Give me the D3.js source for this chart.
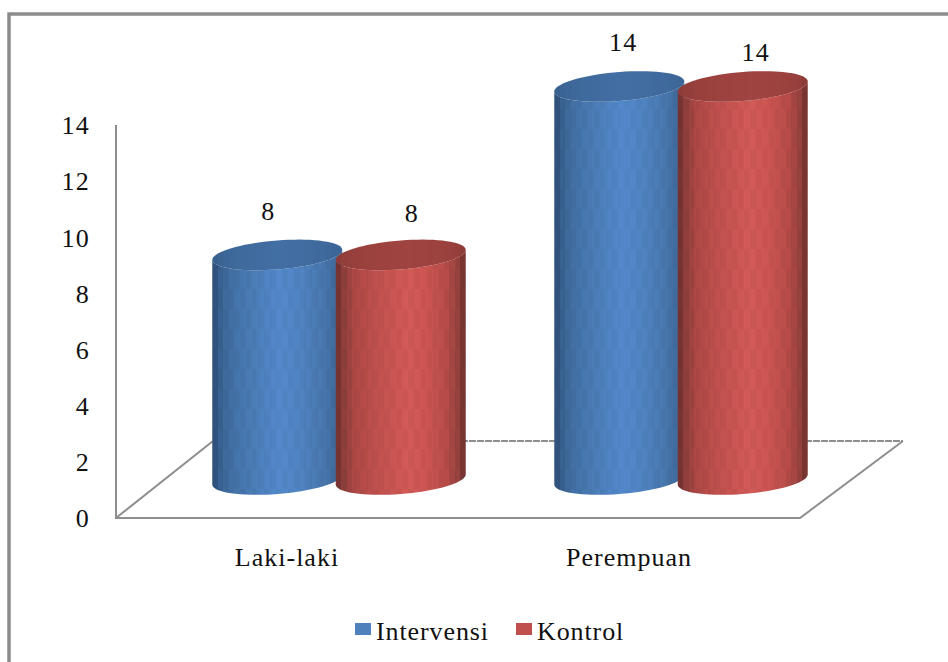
<!DOCTYPE html>
<html>
<head>
<meta charset="utf-8">
<script src="https://cdn.jsdelivr.net/npm/d3@7"></script>
<style>
  html, body { margin: 0; padding: 0; background: #fff; }
  svg { display: block; }
  text { font-family: "Liberation Serif", serif; fill: #111; font-size: 26px; }
</style>
</head>
<body>
<script>
const categories = ["Laki-laki", "Perempuan"];
const seriesNames = ["Intervensi", "Kontrol"];
const intervensi = [8, 14];
const kontrol = [8, 14];
const yTicks = [0, 2, 4, 6, 8, 10, 12, 14];
const seriesColors = { Intervensi: "#4f81bd", Kontrol: "#c0504d" };
// Shading across a cylinder body, left to right: [position, colour]
const blueShade = [[0, "#2c4c74"], [0.05, "#38608f"], [0.14, "#4270a4"], [0.3, "#4a7cb6"], [0.52, "#5389cc"], [0.68, "#4f84c2"], [0.85, "#4877ae"], [0.96, "#3f6b9c"], [1, "#375f8c"]];
const redShade = [[0, "#6a2e2c"], [0.05, "#8c3d3a"], [0.14, "#ac4845"], [0.3, "#bf504d"], [0.55, "#d35a57"], [0.7, "#cc5552"], [0.86, "#b54b48"], [0.95, "#93403d"], [1, "#6a2e2c"]];
const bandCount = 24;

const W = 948, H = 662;
const svg = d3.select("body").append("svg").attr("width", W).attr("height", H);
const defs = svg.append("defs");

// Stepped horizontal gradient, giving the cylinders their ribbed shading
function steppedGradient(id, shade, tint, amount) {
  const colour = d3.scaleLinear().domain(shade.map(s => s[0])).range(shade.map(s => s[1])).interpolate(d3.interpolateRgb);
  const pos = d3.scaleLinear().domain([0, bandCount]).range([0, 100]);
  const g = defs.append("linearGradient").attr("id", id);
  d3.range(bandCount).forEach(i => {
    const base = colour((i + 0.5) / bandCount);
    const c = tint ? d3.interpolateRgb(base, tint)(amount) : base;
    g.append("stop").attr("offset", pos(i) + "%").attr("stop-color", c);
    g.append("stop").attr("offset", pos(i + 1) + "%").attr("stop-color", c);
  });
}
steppedGradient("body-Intervensi", blueShade);
steppedGradient("body-Kontrol", redShade);
steppedGradient("top-Intervensi", blueShade, "#3c6596", 0.75);
steppedGradient("top-Kontrol", redShade, "#933e3b", 0.8);

// Faint checker laid over the cylinder bodies
const checker = defs.append("pattern").attr("id", "checker").attr("patternUnits", "userSpaceOnUse")
  .attr("width", 12).attr("height", 40).attr("y", 9);
checker.append("rect").attr("width", 6).attr("height", 20).attr("fill", "#000").attr("opacity", 0.03);
checker.append("rect").attr("x", 6).attr("y", 20).attr("width", 6).attr("height", 20).attr("fill", "#000").attr("opacity", 0.03);

// Outer frame
svg.append("rect").attr("x", 9).attr("y", 14).attr("width", 960).attr("height", 700)
  .attr("fill", "#fff").attr("stroke", "#8c8c8c").attr("stroke-width", 3.5);

// Scales for the front edge of the floor
const y = d3.scaleLinear().domain([0, 14]).range([518, 125]);
const x0 = d3.scaleBand().domain(categories).range([116, 800]);
const x1 = d3.scaleBand().domain(seriesNames).range([0, x0.bandwidth()]).paddingOuter(0.385).paddingInner(0);

// Floor depth and cylinder proportions
const depthX = 103, depthY = 77;
const rx = 65, ry = 14.5, skew = 5;

// Floor outline
const line = d3.line();
const x0Left = x0.range()[0], x0Right = x0.range()[1], yBase = y(0);
const floor = svg.append("g").attr("fill", "none").attr("stroke", "#8e8e8e").attr("stroke-width", 2);
floor.append("path").attr("d", line([[x0Left, y(14)], [x0Left, yBase], [x0Right, yBase], [x0Right + depthX, yBase - depthY]]));
floor.append("path").attr("d", line([[x0Left, yBase], [x0Left + depthX - 6, yBase - depthY]]));
floor.append("path").attr("d", line([[x0Left + depthX - 6, yBase - depthY], [x0Right + depthX, yBase - depthY]]))
  .attr("stroke-dasharray", "7 1");

// Value axis labels
const axis = d3.axisLeft(y).tickValues(yTicks).tickSize(0).tickPadding(0);
const axisG = svg.append("g").attr("transform", "translate(90,0.5)").call(axis);
axisG.select(".domain").remove();
axisG.selectAll("text").style("font-size", "26px").attr("letter-spacing", "1.2px").attr("dy", "0.32em").attr("x", 0);

// Cylinder outlines built from the value scale
function ellipsePoint(cx, cy, t) {
  return [cx + rx * Math.cos(t), cy + ry * Math.sin(t) - skew * Math.cos(t)];
}
function topPath(cx, cy) {
  const pts = d3.range(0, 73).map(i => ellipsePoint(cx, cy, i / 72 * 2 * Math.PI));
  return d3.line().curve(d3.curveLinearClosed)(pts);
}
function bodyPath(cx, cyTop, cyBase) {
  const front = d3.range(0, 37).map(i => ellipsePoint(cx, cyBase, i / 36 * Math.PI));
  const back = d3.range(36, -1, -1).map(i => ellipsePoint(cx, cyTop, i / 36 * Math.PI));
  return d3.line().curve(d3.curveLinearClosed)(front.concat(back));
}

const rows = categories.flatMap((c, i) => [
  { category: c, series: "Intervensi", value: intervensi[i], labelDx: i ? 4 : -9, labelY: i ? 43 : 212 },
  { category: c, series: "Kontrol", value: kontrol[i], labelDx: i ? 13 : 11, labelY: i ? 53 : 214 }
]);

const marks = svg.append("g").selectAll("g").data(rows).join("g");
const cx = d => x0(d.category) + x1(d.series) + x1.bandwidth() / 2 + 52;
const shift = depthY / 2;
marks.append("path")
  .attr("d", d => bodyPath(cx(d), y(d.value) - shift, y(0) - shift))
  .attr("fill", d => `url(#body-${d.series})`);
marks.append("path")
  .attr("d", d => bodyPath(cx(d), y(d.value) - shift, y(0) - shift))
  .attr("fill", "url(#checker)");
marks.append("path")
  .attr("d", d => topPath(cx(d), y(d.value) - shift))
  .attr("fill", d => `url(#top-${d.series})`);

// Value labels above each cylinder
svg.append("g").selectAll("text").data(rows).join("text")
  .attr("x", d => cx(d) + d.labelDx)
  .attr("y", d => d.labelY)
  .attr("dy", "0.32em")
  .attr("text-anchor", "middle")
  .attr("letter-spacing", "1.2px")
  .text(d => d.value);

// Category labels
svg.append("g").selectAll("text").data(categories).join("text")
  .attr("x", d => x0(d) + x0.bandwidth() / 2)
  .attr("y", 566)
  .attr("text-anchor", "middle")
  .attr("letter-spacing", "1px")
  .text(d => d);

// Legend
const legendX = { Intervensi: [355, 376], Kontrol: [516, 537] };
const legend = svg.append("g").selectAll("g").data(seriesNames).join("g");
legend.append("rect")
  .attr("x", d => legendX[d][0]).attr("y", 623).attr("width", 16).attr("height", 12)
  .attr("fill", d => seriesColors[d]);
legend.append("text")
  .attr("x", d => legendX[d][1]).attr("y", 640)
  .attr("letter-spacing", "0.9px")
  .text(d => d);
</script>
</body>
</html>
